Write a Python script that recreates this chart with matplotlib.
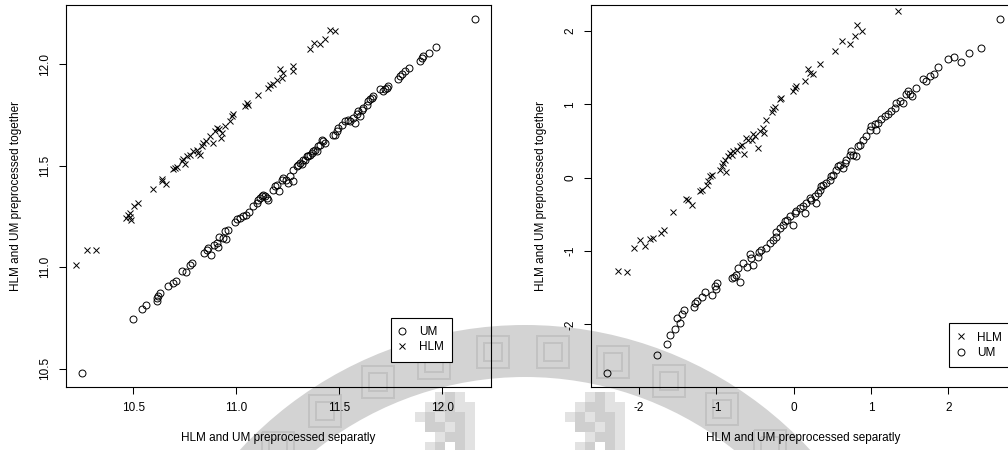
import numpy as np
import matplotlib
matplotlib.use("Agg")
import matplotlib.pyplot as plt
from matplotlib.patches import Wedge, Rectangle
from matplotlib.ticker import FormatStrFormatter

plt.rcParams['font.family'] = ['Liberation Sans', 'DejaVu Sans']

# left panel, log expression
um_sep_1 = [10.250, 10.497, 10.544, 10.562, 10.614, 10.617, 10.621, 10.630, 10.670, 10.691,
            10.706, 10.735, 10.757, 10.775, 10.783, 10.843, 10.856, 10.861, 10.876, 10.892,
            10.905, 10.916, 10.910, 10.934, 10.949, 10.961, 10.945, 10.994, 11.002, 11.018,
            11.034, 11.047, 11.063, 11.083, 11.099, 11.107, 11.115, 11.123, 11.131, 11.139,
            11.148, 11.155, 11.180, 11.188, 11.196, 11.209, 11.220, 11.228, 11.241, 11.252,
            11.261, 11.274, 11.277, 11.293, 11.301, 11.309, 11.317, 11.325, 11.334, 11.342,
            11.350, 11.358, 11.366, 11.374, 11.382, 11.390, 11.398, 11.406, 11.414, 11.422,
            11.431, 11.471, 11.479, 11.487, 11.495, 11.512, 11.528, 11.544, 11.552, 11.576,
            11.568, 11.584, 11.592, 11.600, 11.609, 11.617, 11.633, 11.641, 11.649, 11.657,
            11.665, 11.698, 11.714, 11.722, 11.730, 11.738, 11.786, 11.795, 11.803, 11.819,
            11.838, 11.892, 11.900, 11.905, 11.937, 11.969, 12.159]
um_tog_1 = [10.480, 10.742, 10.795, 10.813, 10.833, 10.849, 10.859, 10.871, 10.907, 10.920,
            10.932, 10.983, 10.976, 11.011, 11.019, 11.072, 11.085, 11.093, 11.059, 11.110,
            11.121, 11.148, 11.101, 11.143, 11.139, 11.184, 11.176, 11.225, 11.237, 11.242,
            11.250, 11.258, 11.274, 11.299, 11.316, 11.332, 11.341, 11.349, 11.357, 11.349,
            11.341, 11.332, 11.382, 11.398, 11.407, 11.373, 11.431, 11.440, 11.431, 11.415,
            11.448, 11.423, 11.481, 11.497, 11.505, 11.514, 11.510, 11.530, 11.530, 11.548,
            11.547, 11.555, 11.563, 11.571, 11.580, 11.575, 11.596, 11.604, 11.625, 11.621,
            11.613, 11.654, 11.654, 11.670, 11.687, 11.703, 11.720, 11.728, 11.720, 11.712,
            11.736, 11.753, 11.769, 11.744, 11.777, 11.786, 11.802, 11.818, 11.827, 11.835,
            11.843, 11.876, 11.871, 11.876, 11.885, 11.893, 11.926, 11.942, 11.954, 11.967,
            11.984, 12.016, 12.033, 12.041, 12.058, 12.086, 12.223]
hlm_sep_1 = [10.222, 10.277, 10.317, 10.465, 10.474, 10.484, 10.486, 10.489, 10.503, 10.521,
             10.597, 10.638, 10.642, 10.657, 10.691, 10.702, 10.712, 10.735, 10.743, 10.751,
             10.762, 10.775, 10.791, 10.808, 10.816, 10.824, 10.832, 10.840, 10.853, 10.872,
             10.885, 10.897, 10.908, 10.917, 10.924, 10.931, 10.945, 10.969, 10.978, 10.985,
             11.042, 11.050, 11.057, 11.107, 11.152, 11.164, 11.180, 11.196, 11.212, 11.228,
             11.220, 11.277, 11.277, 11.358, 11.379, 11.406, 11.431, 11.455, 11.479]
hlm_tog_1 = [11.011, 11.085, 11.084, 11.243, 11.258, 11.268, 11.248, 11.233, 11.299, 11.316,
             11.387, 11.436, 11.426, 11.411, 11.486, 11.491, 11.496, 11.525, 11.535, 11.510,
             11.546, 11.555, 11.571, 11.580, 11.563, 11.555, 11.596, 11.613, 11.621, 11.645,
             11.613, 11.670, 11.687, 11.679, 11.637, 11.659, 11.695, 11.720, 11.744, 11.753,
             11.797, 11.811, 11.802, 11.848, 11.881, 11.896, 11.901, 11.922, 11.975, 11.959,
             11.934, 11.992, 11.967, 12.078, 12.107, 12.099, 12.124, 12.170, 12.165]

# right panel, standardised values
um_sep_2 = [-2.413, -1.764, -1.638, -1.604, -1.531, -1.474, -1.505, -1.441, -1.419, -1.290,
            -1.273, -1.247, -1.186, -1.152, -1.057, -1.022, -0.989, -1.002, -0.799, -0.777,
            -0.743, -0.692, -0.721, -0.657, -0.601, -0.570, -0.550, -0.528, -0.463, -0.454,
            -0.420, -0.356, -0.312, -0.269, -0.227, -0.222, -0.179, -0.136, -0.114, -0.092,
            -0.050, -0.007, 0.015, 0.037, 0.079, 0.122, 0.144, 0.166, 0.209, 0.231,
            0.273, 0.295, 0.316, 0.338, 0.360, 0.380, 0.424, 0.467, 0.489, 0.510,
            0.553, 0.574, 0.596, 0.639, 0.661, 0.683, 0.725, 0.747, 0.768, 0.812,
            0.832, 0.854, 0.897, 0.941, 0.984, 1.006, 1.048, 1.070, 1.091, 1.135,
            1.177, 1.220, 1.264, 1.306, 1.328, 1.371, 1.414, 1.458, 1.478, 1.500,
            1.535, 1.578, 1.672, 1.716, 1.759, 1.810, 1.866, 1.995, 2.072, 2.168,
            2.266, 2.426, 2.663]
um_tog_2 = [-2.656, -2.410, -2.260, -2.150, -2.060, -1.986, -1.910, -1.863, -1.805, -1.759,
            -1.713, -1.677, -1.631, -1.563, -1.599, -1.476, -1.440, -1.522, -1.371, -1.349,
            -1.326, -1.418, -1.234, -1.166, -1.213, -1.039, -1.098, -1.189, -1.076, -1.008,
            -0.984, -0.961, -0.893, -0.848, -0.802, -0.734, -0.688, -0.643, -0.597, -0.574,
            -0.529, -0.643, -0.483, -0.461, -0.414, -0.392, -0.483, -0.346, -0.278, -0.301,
            -0.256, -0.346, -0.209, -0.164, -0.119, -0.096, -0.072, -0.027, 0.018, 0.041,
            0.109, 0.154, 0.178, 0.133, 0.201, 0.246, 0.314, 0.360, 0.314, 0.291,
            0.428, 0.451, 0.519, 0.565, 0.656, 0.701, 0.725, 0.656, 0.748, 0.793,
            0.838, 0.861, 0.906, 0.953, 1.021, 1.043, 1.021, 1.135, 1.180, 1.135,
            1.111, 1.226, 1.349, 1.316, 1.385, 1.408, 1.508, 1.613, 1.650, 1.576,
            1.695, 1.773, 2.160]
hlm_sep_2 = [-2.272, -2.155, -2.069, -1.991, -1.919, -1.862, -1.819, -1.720, -1.677, -1.561,
             -1.389, -1.367, -1.316, -1.216, -1.186, -1.126, -1.105, -1.083, -1.061, -0.954,
             -0.932, -0.911, -0.889, -0.876, -0.847, -0.825, -0.803, -0.782, -0.738, -0.696,
             -0.674, -0.644, -0.618, -0.588, -0.544, -0.524, -0.502, -0.459, -0.437, -0.395,
             -0.386, -0.360, -0.286, -0.265, -0.243, -0.179, -0.157, -0.007, 0.015, 0.037,
             0.144, 0.187, 0.209, 0.251, 0.338, 0.532, 0.626, 0.734, 0.799, 0.820,
             0.884, 1.345]
hlm_tog_2 = [-1.267, -1.289, -0.953, -0.848, -0.930, -0.838, -0.816, -0.756, -0.711, -0.469,
             -0.287, -0.301, -0.369, -0.187, -0.164, -0.096, -0.051, 0.018, 0.041, 0.109,
             0.154, 0.201, 0.246, 0.072, 0.291, 0.338, 0.314, 0.360, 0.383, 0.428,
             0.451, 0.324, 0.543, 0.519, 0.519, 0.588, 0.565, 0.406, 0.633, 0.679,
             0.611, 0.783, 0.893, 0.930, 0.967, 1.066, 1.090, 1.180, 1.226, 1.248,
             1.316, 1.476, 1.431, 1.408, 1.545, 1.727, 1.863, 1.818, 1.932, 2.078,
             1.992, 2.273]

ticks_1 = [10.5, 11.0, 11.5, 12.0]
ticks_2 = [-2, -1, 0, 1, 2]
xlab = "HLM and UM preprocessed separatly"
ylab = "HLM and UM preprocessed together"

W, H = 1008, 450
fig = plt.figure(figsize=(W / 100, H / 100), dpi=100)

# faint grey seal printed behind the plots (pixel coordinates)
bg = fig.add_axes([0, 0, 1, 1])
bg.set_xlim(0, W)
bg.set_ylim(H, 0)
bg.axis('off')
cx, cy, r_out, band = 525, 713, 388, 52
bg.add_patch(Wedge((cx, cy), r_out, 195, 345, width=band, facecolor='#d3d3d3', edgecolor='none'))
for th in np.arange(208, 340, 9.5):
    t = np.radians(th)
    px = cx + (r_out - band / 2) * np.cos(t)
    py = cy + (r_out - band / 2) * np.sin(t)
    for hw in (16, 9):
        bg.add_patch(Rectangle((px - hw, py - hw), 2 * hw, 2 * hw, facecolor='none',
                               edgecolor='#c2c2c2', lw=1.4))

# two small pixelated blobs of the seal below the axes
blob = ["..+#+..",
        ".+##++.",
        "+#+##+.",
        ".##+#+.",
        "..+##+.",
        ".+#.#+."]
shade = {'#': '#cfcfcf', '+': '#e2e2e2'}
for ox, oy in ((415, 392), (565, 392)):
    for j, row in enumerate(blob):
        for i, ch in enumerate(row):
            if ch in shade:
                bg.add_patch(Rectangle((ox + 10 * i, oy + 10 * j), 10, 10,
                                       facecolor=shade[ch], edgecolor='none'))


def rlim(v):
    # axis range padded by 4% like base R graphics
    lo, hi = min(v), max(v)
    pad = 0.04 * (hi - lo)
    return lo - pad, hi + pad


def panel(rect, um_x, um_y, hlm_x, hlm_y, ticks, fmt, order, anchor):
    ax = fig.add_axes(rect)
    ax.patch.set_alpha(0)
    um, = ax.plot(um_x, um_y, 'o', mfc='none', mec='black', ms=5, mew=0.7)
    hlm, = ax.plot(hlm_x, hlm_y, 'x', color='black', ms=5, mew=0.7)
    ax.set_xlim(rlim(um_x))
    ax.set_ylim(rlim(um_y))
    ax.set_xticks(ticks)
    ax.set_yticks(ticks)
    ax.xaxis.set_major_formatter(FormatStrFormatter(fmt))
    ax.yaxis.set_major_formatter(FormatStrFormatter(fmt))
    ax.tick_params(direction='out', length=5, width=0.75, labelsize=8.5, pad=6)
    plt.setp(ax.get_yticklabels(), rotation=90, va='center')
    for s in ax.spines.values():
        s.set_linewidth(0.8)
    ax.set_xlabel(xlab, fontsize=8.5, labelpad=13)
    ax.set_ylabel(ylab, fontsize=8.5, labelpad=12)
    h = {'UM': um, 'HLM': hlm}
    leg = ax.legend([h[k] for k in order], order, loc='upper left', bbox_to_anchor=anchor,
                    frameon=True, fancybox=False, edgecolor='black', framealpha=1,
                    borderpad=0.7, labelspacing=0.3, handlelength=0.6, handletextpad=1.1,
                    borderaxespad=0, numpoints=1, fontsize=8.5)
    leg.get_frame().set_linewidth(0.8)
    return ax


panel([66 / W, 63.3 / H, 424.7 / W, 381.7 / H], um_sep_1, um_tog_1, hlm_sep_1, hlm_tog_1,
      ticks_1, '%.1f', ['UM', 'HLM'], (0.7645, 0.1808))
panel([591.3 / W, 63.3 / H, 424 / W, 381.7 / H], um_sep_2, um_tog_2, hlm_sep_2, hlm_tog_2,
      ticks_2, '%d', ['HLM', 'UM'], (0.8436, 0.1661))

fig.savefig("out.png", dpi=100)
